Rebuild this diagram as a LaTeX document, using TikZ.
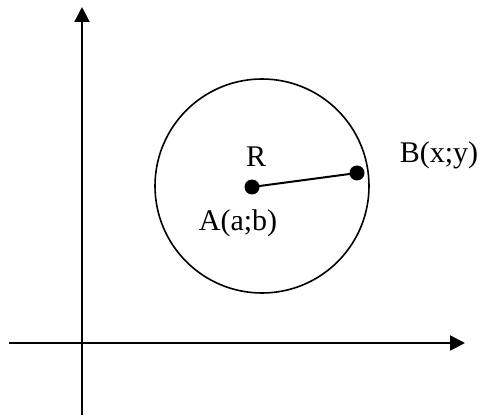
\documentclass[tikz,border=0pt]{standalone}
\usepackage{fontspec}
\setmainfont{Liberation Serif}
\usetikzlibrary{arrows.meta, positioning}

\begin{document}
\begin{tikzpicture}[
  x=0.5pt,
  y=0.5pt,
  font=\fontsize{15}{17}\selectfont,
  every node/.style={inner sep=0pt},
  axis/.style={line width=1.1pt, -{Triangle[length=7.5pt, width=7.5pt]}},
  dot/.style={circle, fill=black, minimum size=7.5pt},
  >={Triangle[length=7.5pt, width=7.5pt]}
]

\useasboundingbox (0,0) rectangle (481,418);

\coordinate (xstart) at (9,75);
\coordinate (xend) at (465,75);
\coordinate (ystart) at (82,3);
\coordinate (yend) at (82,411);

\draw[axis] (xstart) -- (xend);
\draw[axis] (ystart) -- (yend);

\draw[line width=0.8pt] (262,232) circle[radius=107];

\node[dot] (A) at (252,231) {};
\node[dot] (B) at (357,245) {};
\draw[line width=1pt] (A.center) -- (B.center);

\node (labR) at (256,261) {R};
\node (labA) at (238,195) {A(a;b)};
\node (labB) at (439,263) {B(x;y)};

\end{tikzpicture}
\end{document}
